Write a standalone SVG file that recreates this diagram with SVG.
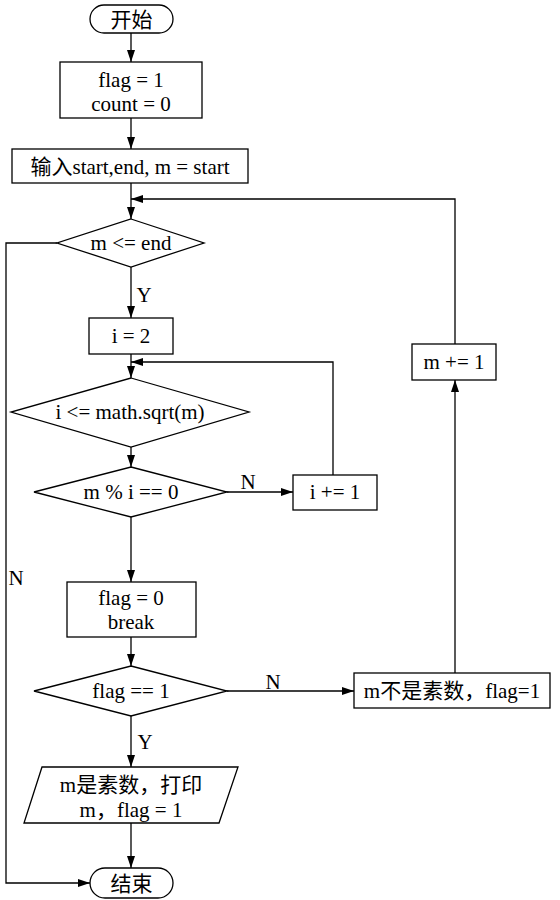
<svg xmlns="http://www.w3.org/2000/svg" width="560" height="900" viewBox="0 0 560 900">
<style>
.s{fill:#fff;stroke:#000;stroke-width:1.3}
.t{font-family:"Liberation Serif","Noto Sans CJK SC",serif;font-size:21px;fill:#000;text-anchor:middle}
.l{fill:none;stroke:#000;stroke-width:1.3}
</style>
<defs>
<marker id="a" viewBox="0 0 12 8" refX="12" refY="4" markerWidth="12" markerHeight="8" markerUnits="userSpaceOnUse" orient="auto"><path d="M0,0 L12,4 L0,8 Z" fill="#000"/></marker>
</defs>
<rect width="560" height="900" fill="#fff"/>
<g id="connectors">
<path class="l" d="M131,33 V62" marker-end="url(#a)"/>
<path class="l" d="M131,118 V149" marker-end="url(#a)"/>
<path class="l" d="M131,183 V219" marker-end="url(#a)"/>
<path class="l" d="M455,344 V199 H131" marker-end="url(#a)"/>
<path class="l" d="M131,267 V318" marker-end="url(#a)"/>
<path class="l" d="M131,354 V378" marker-end="url(#a)"/>
<path class="l" d="M333,475 V362 H131" marker-end="url(#a)"/>
<path class="l" d="M131,447 V467" marker-end="url(#a)"/>
<path class="l" d="M227,492 H293" marker-end="url(#a)"/>
<path class="l" d="M131,517 V582" marker-end="url(#a)"/>
<path class="l" d="M131,637 V666" marker-end="url(#a)"/>
<path class="l" d="M227,691 H354" marker-end="url(#a)"/>
<path class="l" d="M455,673 V380" marker-end="url(#a)"/>
<path class="l" d="M131,716 V767" marker-end="url(#a)"/>
<path class="l" d="M131,823 V868" marker-end="url(#a)"/>
<path class="l" d="M57,243 H6 V883 H90" marker-end="url(#a)"/>
<text class="t" x="144" y="302">Y</text>
<text class="t" x="248" y="489">N</text>
<text class="t" x="16" y="585">N</text>
<text class="t" x="273" y="689">N</text>
<text class="t" x="145" y="749">Y</text>
</g>
<g id="start">
<rect class="s" x="90" y="5" width="83" height="28" rx="14"/>
<text class="t" x="131.5" y="27">开始</text>
</g>
<g id="init">
<rect class="s" x="60" y="62" width="142" height="56"/>
<text class="t" x="131" y="87">flag = 1</text>
<text class="t" x="131" y="111">count = 0</text>
</g>
<g id="input">
<rect class="s" x="12" y="149" width="236" height="34"/>
<text class="t" x="130" y="174">输入start,end, m = start</text>
</g>
<g id="cond1">
<polygon class="s" points="131,219 204,243 131,267 57,243"/>
<text class="t" x="131" y="250">m &lt;= end</text>
</g>
<g id="i2">
<rect class="s" x="89" y="318" width="84" height="36"/>
<text class="t" x="131" y="343">i = 2</text>
</g>
<g id="cond2">
<polygon class="s" points="131,378 249,412 131,447 11,412"/>
<text class="t" x="130" y="419">i &lt;= math.sqrt(m)</text>
</g>
<g id="cond3">
<polygon class="s" points="131,467 227,492 131,517 34,492"/>
<text class="t" x="131" y="499">m % i == 0</text>
</g>
<g id="inc_i">
<rect class="s" x="293" y="475" width="84" height="35"/>
<text class="t" x="335" y="499">i += 1</text>
</g>
<g id="flag0">
<rect class="s" x="67" y="582" width="129" height="55"/>
<text class="t" x="131" y="605">flag = 0</text>
<text class="t" x="131" y="629">break</text>
</g>
<g id="cond4">
<polygon class="s" points="131,666 227,691 131,716 34,691"/>
<text class="t" x="131" y="698">flag == 1</text>
</g>
<g id="notprime">
<rect class="s" x="354" y="673" width="196" height="35"/>
<text class="t" x="452" y="698">m不是素数，flag=1</text>
</g>
<g id="inc_m">
<rect class="s" x="412" y="344" width="84" height="36"/>
<text class="t" x="454" y="369">m += 1</text>
</g>
<g id="prime">
<polygon class="s" points="42,767 238,767 219,823 24,823"/>
<text class="t" x="131" y="792">m是素数，打印</text>
<text class="t" x="131" y="817">m，flag = 1</text>
</g>
<g id="end">
<rect class="s" x="90" y="868" width="83" height="30" rx="15"/>
<text class="t" x="131.5" y="891">结束</text>
</g>
</svg>
